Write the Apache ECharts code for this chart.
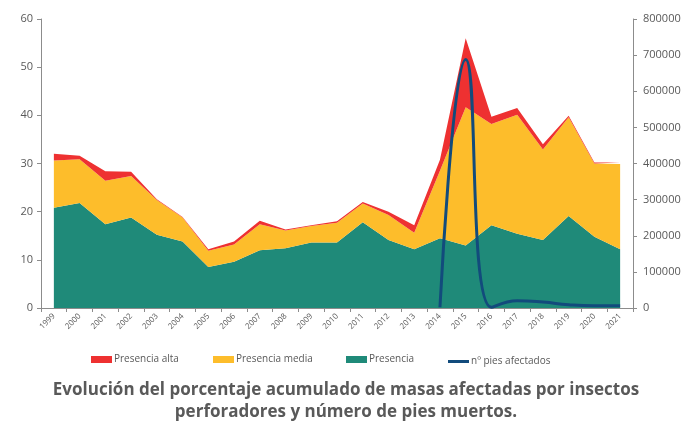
<!DOCTYPE html>
<html>
<head>
<meta charset="utf-8">
<script src="https://cdn.jsdelivr.net/npm/echarts@6/dist/echarts.min.js"></script>
<style>
  html, body { margin: 0; padding: 0; background: #fff; }
  #chart { width: 684px; height: 425px; }
</style>
</head>
<body>
<div id="chart"></div>
<script>
const years = ['1999','2000','2001','2002','2003','2004','2005','2006','2007','2008','2009','2010',
  '2011','2012','2013','2014','2015','2016','2017','2018','2019','2020','2021']
const presencia = [20.8,21.8,17.4,18.8,15.2,13.8,8.5,9.6,12.0,12.4,13.6,13.6,17.8,14.1,12.2,14.5,13.0,17.2,15.4,14.1,19.1,14.8,12.2]
const presenciaMedia = [9.8,9.1,9.0,8.6,7.2,5.0,3.4,3.6,5.4,3.7,3.4,4.1,3.9,5.2,3.4,14.0,28.7,21.0,24.7,18.8,20.5,15.2,17.7]
const presenciaAlta = [1.4,0.7,2.0,0.9,0.2,0.1,0.3,0.6,0.7,0.2,0.2,0.3,0.3,0.7,1.6,2.3,14.3,1.5,1.4,1.1,0.3,0.2,0.3]
const piesAfectados = [null,null,null,null,null,null,null,null,null,null,null,null,null,null,null,
  2000,688000,2000,20000,16500,9000,6000,6500]

const leftTicks = [0, 60, 10]
const rightTicks = [0, 800000, 100000]

const colors = { alta: '#EE3131', media: '#FDBD2B', presencia: '#1F8A79', pies: '#124B7C' }
const grey = '#595959'
const axisGrey = '#8C8C8C'

const myChart = echarts.init(document.querySelector('#chart'))

const areaSeries = (name, data, color) => ({
  name,
  type: 'line',
  stack: 'total',
  data,
  symbol: 'none',
  lineStyle: { width: 0 },
  areaStyle: { color, opacity: 1 },
  itemStyle: { color }
})

const legendItem = (name, left, h) => ({
  left, top: 353 - h / 2,
  itemWidth: 21, itemHeight: h, itemGap: 0,
  textStyle: { color: grey, fontSize: 10, fontFamily: 'Open Sans', padding: [0, 0, 0, -3] },
  data: [{ name, icon: 'rect' }]
})

myChart.setOption({
  animation: false,
  textStyle: { fontFamily: 'Open Sans' },
  grid: { left: 41, right: 51, top: 19, bottom: 117 },
  legend: [
    legendItem('Presencia alta', 86, 7),
    legendItem('Presencia media', 208, 7),
    legendItem('Presencia', 341, 7),
    legendItem('nº pies afectados', 443, 3)
  ],
  graphic: [
    {
      type: 'text', x: 346, y: 379,
      style: {
        text: 'Evolución del porcentaje acumulado de masas afectadas por insectos\nperforadores y número de pies muertos.',
        fill: grey, font: 'bold 17px "Open Sans"', textAlign: 'center', textVerticalAlign: 'top', lineHeight: 22
      }
    }
  ],
  xAxis: {
    type: 'category',
    data: years,
    boundaryGap: true,
    axisLine: { lineStyle: { color: axisGrey } },
    axisTick: { show: true, length: 4, lineStyle: { color: axisGrey } },
    axisLabel: { rotate: 45, interval: 0, fontSize: 8, color: grey, margin: 7 }
  },
  yAxis: [
    {
      type: 'value', min: leftTicks[0], max: leftTicks[1], interval: leftTicks[2],
      axisLine: { show: true, lineStyle: { color: axisGrey } },
      axisTick: { show: true, length: 4, lineStyle: { color: axisGrey } },
      splitLine: { show: false },
      axisLabel: { fontSize: 11, color: grey, margin: 8 }
    },
    {
      type: 'value', min: rightTicks[0], max: rightTicks[1], interval: rightTicks[2],
      position: 'right',
      axisLine: { show: true, lineStyle: { color: axisGrey } },
      axisTick: { show: true, length: 4, lineStyle: { color: axisGrey } },
      splitLine: { show: false },
      axisLabel: { fontSize: 11, color: grey, margin: 10, formatter: (v) => String(v) }
    }
  ],
  series: [
    areaSeries('Presencia', presencia, colors.presencia),
    areaSeries('Presencia media', presenciaMedia, colors.media),
    areaSeries('Presencia alta', presenciaAlta, colors.alta),
    {
      name: 'nº pies afectados',
      type: 'line',
      yAxisIndex: 1,
      data: piesAfectados,
      smooth: 0.5,
      symbol: 'none',
      lineStyle: { color: colors.pies, width: 3 },
      itemStyle: { color: colors.pies }
    }
  ]
})
</script>
</body>
</html>
